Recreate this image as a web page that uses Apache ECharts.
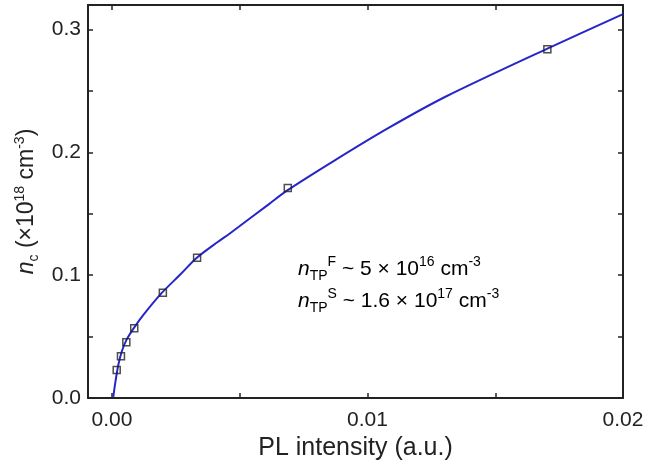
<!DOCTYPE html>
<html>
<head>
<meta charset="utf-8">
<script src="https://cdn.jsdelivr.net/npm/echarts@6/dist/echarts.min.js"></script>
<style>
html,body{margin:0;padding:0;background:#fff;}
#c{width:651px;height:467px;}
</style>
</head>
<body>
<div id="c"></div>
<script>
// Measured data points (PL intensity, n_c in 1e18 cm^-3)
var pointsX = [0.000184, 0.00035, 0.00056, 0.00087, 0.00199, 0.00333, 0.00688, 0.01704];
var pointsY = [0.0228, 0.034, 0.0454, 0.0568, 0.0856, 0.1143, 0.171, 0.284];
// Fit curve
var curveX = [0.00005, 0.000145, 0.000246, 0.000379, 0.000566, 0.000859, 0.00122, 0.00194, 0.00266, 0.00331, 0.00415, 0.00461, 0.00617, 0.00686, 0.00864, 0.01079, 0.01307, 0.01704, 0.0200];
var curveY = [0.001, 0.0147, 0.0269, 0.0377, 0.0473, 0.0571, 0.0675, 0.0854, 0.1003, 0.1140, 0.1272, 0.1340, 0.1583, 0.1690, 0.1925, 0.2195, 0.2455, 0.2845, 0.3125];
// Ticks
var xLabelTicks = [0, 0.01, 0.02];
var xAllTicks = [0, 0.005, 0.01, 0.015, 0.02];
var yLabelTicks = [0, 0.1, 0.2, 0.3];
var yAllTicks = [0, 0.05, 0.1, 0.15, 0.2, 0.25, 0.3];

var FONT = 'Liberation Sans, Arial, Helvetica, sans-serif';
var chart = echarts.init(document.getElementById('c'));

function pairs(xs, ys){ return xs.map(function(x,i){return [x, ys[i]];}); }

var axisLine = {show:true, onZero:false, lineStyle:{color:'#222', width:2}};
var tick = function(vals){ return {show:true, inside:true, length:5, lineStyle:{color:'#222', width:1.5}, customValues: vals}; };

var supSub = {
  n: {fontFamily: FONT, fontSize: 21, fontStyle: 'italic', color:'#222', lineHeight: 28},
  t: {fontFamily: FONT, fontSize: 21, color:'#222', lineHeight: 28},
  sub: {fontFamily: FONT, fontSize: 14, color:'#222', lineHeight: 14, verticalAlign: 'bottom'},
  sup: {fontFamily: FONT, fontSize: 14, color:'#222', lineHeight: 14, verticalAlign: 'top'}
};

chart.setOption({
  animation: false,
  backgroundColor: '#fff',
  grid: {left: 88, right: 28, top: 5, bottom: 69, containLabel: false, outerBoundsMode: 'none'},
  xAxis: [
    {type:'value', position:'bottom', min:-0.00094, max:0.02,
     axisLine: axisLine, axisTick: tick(xAllTicks), splitLine:{show:false},
     axisLabel:{show:true, customValues: xLabelTicks, margin: 12, color:'#222', fontFamily: FONT, fontSize: 21,
       formatter: function(v){ return v.toFixed(2); }},
     name: 'PL intensity (a.u.)', nameLocation:'middle', nameGap: 37,
     nameTextStyle:{color:'#222', fontFamily: FONT, fontSize: 25}},
    {type:'value', position:'top', min:-0.00094, max:0.02,
     axisLine: axisLine, axisTick: tick(xAllTicks), splitLine:{show:false}, axisLabel:{show:false}}
  ],
  yAxis: [
    {type:'value', position:'left', min:0, max:0.32,
     axisLine: axisLine, axisTick: tick(yAllTicks), splitLine:{show:false},
     axisLabel:{show:true, customValues: yLabelTicks, margin: 7, color:'#222', fontFamily: FONT, fontSize: 21,
       formatter: function(v){ return v.toFixed(1); }},
     name: '{n|n}{sub|c}{t| (×10}{sup|18}{t| cm}{sup|-3}{t|)}', nameLocation:'middle', nameGap: 44, nameRotate: 90,
     nameTextStyle:{rich: {
       n: {fontFamily: FONT, fontSize: 23, fontStyle:'italic', color:'#222', lineHeight: 28},
       t: {fontFamily: FONT, fontSize: 23, color:'#222', lineHeight: 28},
       sub: {fontFamily: FONT, fontSize: 14, color:'#222', lineHeight: 14, verticalAlign:'bottom'},
       sup: {fontFamily: FONT, fontSize: 14, color:'#222', lineHeight: 14, verticalAlign:'top'}
     }}},
    {type:'value', position:'right', min:0, max:0.32,
     axisLine: axisLine, axisTick: tick(yAllTicks), splitLine:{show:false}, axisLabel:{show:false}}
  ],
  series: [
    {type:'line', xAxisIndex:0, yAxisIndex:0, data: pairs(curveX, curveY), smooth: 0.3, symbol:'none',
     lineStyle:{color:'#2626c8', width:2}, z: 2},
    {type:'scatter', xAxisIndex:0, yAxisIndex:0, data: pairs(pointsX, pointsY), symbol:'rect', symbolSize: 7,
     itemStyle:{color:'rgba(255,255,255,0)', borderColor:'#222', borderWidth:1.5}, z: 3}
  ],
  graphic: [
    {type:'text', left: 298, top: 255, style:{
      text: '{n|n}{sub|TP}{sup|F}{t| ~ 5 × 10}{sup|16}{t| cm}{sup|-3}', rich: supSub}},
    {type:'text', left: 298, top: 287, style:{
      text: '{n|n}{sub|TP}{sup|S}{t| ~ 1.6 × 10}{sup|17}{t| cm}{sup|-3}', rich: supSub}}
  ]
});
</script>
</body>
</html>
